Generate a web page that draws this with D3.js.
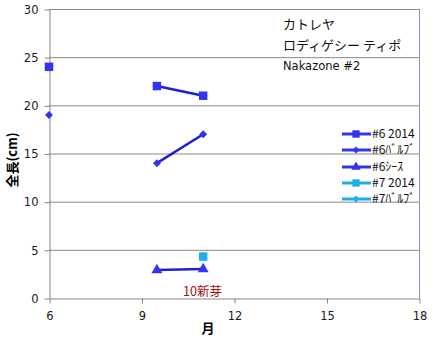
<!DOCTYPE html>
<html>
<head>
<meta charset="utf-8">
<script src="https://cdn.jsdelivr.net/npm/d3@7/dist/d3.min.js"></script>
<style>
  html, body { margin: 0; padding: 0; background: #fff; }
  svg { display: block; }
</style>
</head>
<body>
<svg id="chart" width="435" height="341"></svg>
<script>
// Months of measurement (the empty slot at 8 breaks the lines)
const months = [6, 8, 9.5, 11];

// Total length (cm) per series
const s6_2014 = [24, null, 22, 21];
const s6_bulb = [19, null, 14, 17];
const s6_sheath = [null, null, 2.9, 3.0];
const s7_2014 = [null, null, null, 4.3];
const s7_bulb = [null, null, null, null];

const seriesNames = ["#6 2014", "#6ﾊﾞﾙﾌﾞ", "#6ｼｰｽ", "#7 2014", "#7ﾊﾞﾙﾌﾞ"];
const seriesValues = [s6_2014, s6_bulb, s6_sheath, s7_2014, s7_bulb];
const seriesMarkers = ["square", "diamond", "triangle", "square", "diamond"];
const seriesColors = ["#3434f0", "#3434f0", "#3434f0", "#1eb0ea", "#1eb0ea"];
const seriesLineColors = ["#2020d0", "#2020d0", "#2020d0", "#1eb0ea", "#1eb0ea"];

const xTicks = [6, 9, 12, 15, 18];
const yTicks = [0, 5, 10, 15, 20, 25, 30];
const titleLines = ["カトレヤ", "ロディゲシー ティポ", "Nakazone #2"];
const noteText = "10新芽";

const svg = d3.select("#chart");
const plotLeft = 49, plotRight = 419, plotTop = 9, plotBottom = 298;

const x = d3.scaleLinear().domain([6, 18]).range([plotLeft, plotRight]);
const y = d3.scaleLinear().domain([0, 30]).range([plotBottom, plotTop]);

// Gridlines
svg.append("g").selectAll("line").data(yTicks.filter(d => d > 0)).join("line")
  .attr("x1", plotLeft).attr("x2", plotRight)
  .attr("y1", d => y(d) + 0.5).attr("y2", d => y(d) + 0.5)
  .attr("stroke", "#8a8a8a").attr("stroke-width", 1);

// Right border of the plot area
svg.append("line")
  .attr("x1", plotRight + 0.5).attr("x2", plotRight + 0.5)
  .attr("y1", plotTop).attr("y2", plotBottom)
  .attr("stroke", "#8294ae").attr("stroke-width", 1);

// Axes
const yAxis = svg.append("g")
  .attr("transform", `translate(${plotLeft + 0.5},0.5)`)
  .call(d3.axisLeft(y).tickValues(yTicks).tickSize(5).tickPadding(6).tickSizeOuter(0));
const xAxis = svg.append("g")
  .attr("transform", `translate(0.5,${plotBottom + 0.5})`)
  .call(d3.axisBottom(x).tickValues(xTicks).tickSize(5).tickPadding(6).tickSizeOuter(0));

[yAxis, xAxis].forEach(g => {
  g.select(".domain").attr("stroke", "#868686");
  g.selectAll(".tick line").attr("stroke", "#868686");
  g.selectAll(".tick text")
    .attr("fill", "#1a1a1a")
    .style("font-family", "'DejaVu Sans', sans-serif")
    .style("font-size", "11.5px");
});
xAxis.selectAll(".tick text").attr("dy", "0.9em");

// Axis titles
svg.append("text")
  .attr("transform", "translate(17,160) rotate(-90)")
  .attr("text-anchor", "middle")
  .style("font-family", "'Noto Sans CJK JP', sans-serif")
  .style("font-size", "13px").style("font-weight", "bold")
  .text("全長(cm)");
svg.append("text")
  .attr("x", 208).attr("y", 333)
  .attr("text-anchor", "middle")
  .style("font-family", "'Noto Sans CJK JP', sans-serif")
  .style("font-size", "13px").style("font-weight", "bold")
  .text("月");

// Marker shapes (diamond = square turned 45 degrees)
function markerPath(type, size) {
  const sym = type === "triangle" ? d3.symbolTriangle : d3.symbolSquare;
  return d3.symbol().type(sym).size(size)();
}
function markerTransform(type, px, py) {
  return `translate(${px},${py})` + (type === "diamond" ? " rotate(45)" : "");
}
const markerSize = { square: 72, diamond: 32, triangle: 52 };

// Series lines and markers
const line = d3.line()
  .defined(d => d.v !== null)
  .x(d => x(d.m)).y(d => y(d.v));

seriesValues.forEach((vals, i) => {
  const type = seriesMarkers[i];
  const pts = months.map((m, j) => ({ m, v: vals[j] }));
  svg.append("path")
    .datum(pts)
    .attr("d", line)
    .attr("fill", "none")
    .attr("stroke", seriesLineColors[i])
    .attr("stroke-width", 2.5);
  svg.append("g").selectAll("path")
    .data(pts.filter(d => d.v !== null))
    .join("path")
    .attr("d", markerPath(type, markerSize[type]))
    .attr("transform", d => markerTransform(type, x(d.m), y(d.v)))
    .attr("fill", seriesColors[i]);
});

// Title block
const title = svg.append("g").style("font-family", "'Noto Sans CJK JP', sans-serif");
title.append("text").attr("x", 283).attr("y", 29).style("font-size", "13px").attr("fill", "#111").text(titleLines[0]);
title.append("text").attr("x", 283).attr("y", 50).style("font-size", "13px").attr("fill", "#111").text(titleLines[1]);
title.append("text").attr("x", 283).attr("y", 70)
  .style("font-family", "'DejaVu Sans', sans-serif").style("font-size", "11.5px").attr("fill", "#111").text(titleLines[2]);

// Annotation
svg.append("text")
  .attr("x", 183).attr("y", 296)
  .style("font-family", "'Noto Sans CJK JP', sans-serif")
  .style("font-size", "12.5px")
  .attr("fill", "#9a1010")
  .text(noteText);

// Legend
const legend = svg.append("g");
const legendY = [134, 150, 167, 183, 199];
seriesNames.forEach((name, i) => {
  const type = seriesMarkers[i];
  const g = legend.append("g").attr("transform", `translate(0,${legendY[i]})`);
  g.append("line").attr("x1", 342).attr("x2", 371).attr("y1", 0).attr("y2", 0)
    .attr("stroke", seriesColors[i]).attr("stroke-width", 3);
  g.append("path")
    .attr("d", markerPath(type, markerSize[type] * 0.75))
    .attr("transform", markerTransform(type, 356, 0))
    .attr("fill", seriesColors[i]);
  g.append("text").attr("x", 372).attr("y", 4)
    .style("font-family", "'Noto Sans CJK JP', sans-serif")
    .style("font-size", "12px").attr("fill", "#111")
    .text(name);
});
</script>
</body>
</html>
